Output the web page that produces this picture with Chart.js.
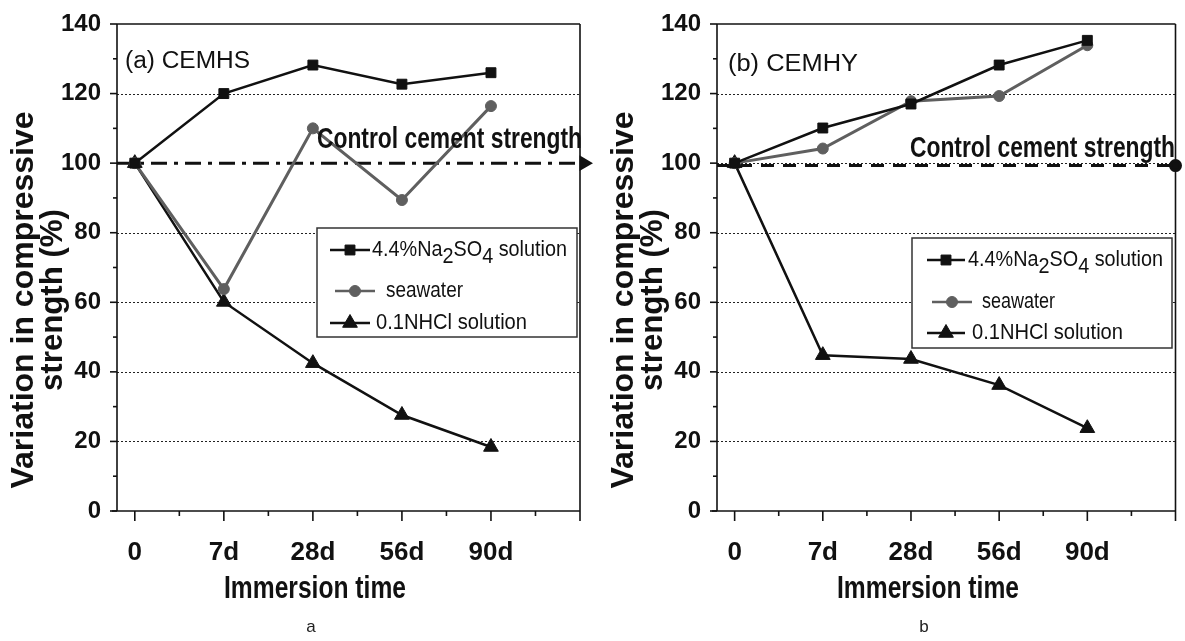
<!DOCTYPE html>
<html>
<head>
<meta charset="utf-8">
<script src="https://cdn.jsdelivr.net/npm/chart.js@4.4.0/dist/chart.umd.min.js"></script>
<style>
  body { margin: 0; background: #fff; width: 1185px; height: 641px; overflow: hidden; position: relative; }
  canvas { position: absolute; top: 0; }
  #chartA { left: 0; }
  #chartB { left: 593px; }
</style>
</head>
<body>
<canvas id="chartA" width="593" height="641"></canvas>
<canvas id="chartB" width="592" height="641"></canvas>
<script>
// immersion times (x categories) and y tick labels
const times = ["0", "7d", "28d", "56d", "90d"];
const yTicks = [0, 20, 40, 60, 80, 100, 120, 140];
const seriesNames = ["4.4%Na_2SO_4 solution", "seawater", "0.1NHCl solution"];

// (a) CEMHS
const sulfateA = [100, 120, 128.2, 122.7, 126];
const seawaterA = [100, 63.8, 110, 89.4, 116.4];
const hclA = [100, 60.1, 42.5, 27.6, 18.4];
const controlA = 100;

// (b) CEMHY
const sulfateB = [100, 110.1, 117, 128.2, 135.3];
const seawaterB = [100, 104.2, 117.8, 119.3, 133.9];
const hclB = [100, 44.8, 43.7, 36.2, 23.8];
const controlB = 99.3;

const FONT = "'Liberation Sans', Arial, sans-serif";
const black = "#111";
const grey = "#5f5f5f";

function line(ctx, x1, y1, x2, y2) {
  ctx.beginPath();
  ctx.moveTo(x1, y1);
  ctx.lineTo(x2, y2);
  ctx.stroke();
}

// draws text squeezed/stretched to a given width (the figure uses a condensed face)
function fitText(ctx, str, cx, cy, font, width, rot) {
  ctx.save();
  ctx.font = font;
  const k = width / ctx.measureText(str).width;
  ctx.translate(cx, cy);
  if (rot) ctx.rotate(rot);
  ctx.scale(k, 1);
  ctx.textAlign = "center";
  ctx.textBaseline = "middle";
  ctx.fillText(str, 0, 0);
  ctx.restore();
}

// legend text with "_x" subscripts
function richText(ctx, str, x, cy, size, width) {
  const parts = [];
  for (let i = 0; i < str.length; i++) {
    if (str[i] === "_") { parts.push({ t: str[i + 1], sub: true }); i++; }
    else if (parts.length && !parts[parts.length - 1].sub) parts[parts.length - 1].t += str[i];
    else parts.push({ t: str[i], sub: false });
  }
  ctx.save();
  ctx.font = size + "px " + FONT;
  let total = 0;
  parts.forEach(p => { p.w = ctx.measureText(p.t).width; total += p.w; });
  const k = width / total;
  ctx.translate(x, cy);
  ctx.scale(k, 1);
  ctx.textAlign = "left";
  ctx.textBaseline = "middle";
  let px = 0;
  parts.forEach(p => {
    ctx.fillText(p.t, px, p.sub ? size * 0.33 : 0);
    px += p.w;
  });
  ctx.restore();
}

const decor = {
  id: "decor",
  beforeDatasetsDraw(chart, args, o) {
    const { ctx, chartArea: a, scales: { x, y } } = chart;
    ctx.save();
    ctx.strokeStyle = "#222";
    ctx.lineWidth = 1;
    ctx.setLineDash([2, 2]);
    // dotted grid, hidden where the control line sits right on it
    yTicks.filter(v => v > 0 && v < 140 && Math.abs(v - o.control) > 0.5).forEach(v => {
      const py = Math.round(y.getPixelForValue(v)) + 0.5;
      line(ctx, a.left, py, a.right, py);
    });
    ctx.setLineDash([]);
    ctx.strokeStyle = black;
    ctx.lineWidth = 1.6;
    line(ctx, a.left, a.top, a.right, a.top);
    line(ctx, a.left, a.top, a.left, a.bottom);
    line(ctx, a.right, a.top, a.right, a.bottom + 10);
    line(ctx, a.left - 5, a.bottom, a.right, a.bottom);
    for (let v = 0; v <= 140; v += 10) {
      const py = y.getPixelForValue(v);
      line(ctx, a.left - (v % 20 ? 4 : 7), py, a.left, py);
    }
    for (let v = 0; v < 5; v += 0.5) {
      const px = x.getPixelForValue(v);
      line(ctx, px, a.bottom, px, a.bottom + (v % 1 ? 5 : 10));
    }
    ctx.restore();
  },
  afterDatasetsDraw(chart, args, o) {
    const { ctx } = chart;
    ctx.save();
    ctx.fillStyle = black;
    // panel title
    fitText(ctx, o.title, o.titleX + o.titleW / 2, o.titleY, "23px " + FONT, o.titleW);
    // control line label
    fitText(ctx, "Control cement strength", o.ctrlX + o.ctrlW / 2, o.ctrlY, "bold 29px " + FONT, o.ctrlW);
    // y axis title
    fitText(ctx, "Variation in compressive", o.yt1, 300, "bold 31px " + FONT, 377, -Math.PI / 2);
    fitText(ctx, "strength (%)", o.yt2, 300, "bold 31px " + FONT, 182, -Math.PI / 2);
    // x axis title
    fitText(ctx, "Immersion time", o.xtX, 589, "bold 31px " + FONT, 182);
    // caption
    ctx.font = "17px " + FONT;
    ctx.textAlign = "center";
    ctx.textBaseline = "middle";
    ctx.fillStyle = "#222";
    ctx.fillText(o.caption, o.xtX - 4, 627);

    // legend box
    const L = o.legend;
    ctx.fillStyle = "#fff";
    ctx.fillRect(L.l, L.t, L.w, L.h);
    ctx.strokeStyle = "#333";
    ctx.lineWidth = 1.5;
    ctx.strokeRect(L.l, L.t, L.w, L.h);
    chart.data.datasets.slice(0, 3).forEach((ds, i) => {
      const r = L.rows[i];
      ctx.strokeStyle = ds.borderColor;
      ctx.fillStyle = ds.borderColor;
      ctx.lineWidth = 2.6;
      line(ctx, r.x1, r.cy, r.x2, r.cy);
      ctx.lineWidth = 1;
      Chart.helpers.drawPoint(ctx, { pointStyle: ds.pointStyle, radius: ds.pointRadius, rotation: 0, borderWidth: 1 }, (r.x1 + r.x2) / 2, r.cy);
      ctx.fillStyle = black;
      richText(ctx, seriesNames[i], r.tx, r.cy, 22, r.tw);
    });
    ctx.restore();
  }
};

function series(values, color, style, radius, width) {
  return {
    data: values.map((v, i) => ({ x: i, y: v })),
    borderColor: color,
    backgroundColor: color,
    pointBackgroundColor: color,
    pointBorderColor: color,
    pointStyle: style,
    pointRadius: radius,
    pointBorderWidth: 1,
    borderWidth: width
  };
}

function makeChart(id, sulfate, seawater, hcl, control, end, d) {
  const ctrl = {
    data: [{ x: -0.2, y: control }, { x: end.x, y: control }],
    borderColor: black,
    borderWidth: 3,
    borderDash: end.dash,
    pointRadius: [0, end.r],
    pointStyle: end.style,
    pointRotation: 90,
    pointBackgroundColor: black,
    pointBorderColor: black,
    clip: false
  };
  d.control = control;
  return new Chart(document.getElementById(id), {
    type: "line",
    data: {
      datasets: [
        series(sulfate, black, "rect", 7, 2.5),
        series(seawater, grey, "circle", 5.5, 3),
        series(hcl, black, "triangle", 8.5, 2.5),
        ctrl
      ]
    },
    options: {
      responsive: false,
      animation: false,
      devicePixelRatio: 1,
      events: [],
      layout: { padding: { left: 0, top: 24, right: d.padRight, bottom: 0 } },
      scales: {
        x: {
          type: "linear",
          min: -0.2,
          max: 5,
          grid: { display: false },
          border: { display: false },
          afterBuildTicks: s => { s.ticks = times.map((t, i) => ({ value: i })); },
          afterFit: s => { s.height = 130; },
          ticks: {
            autoSkip: false,
            maxRotation: 0,
            padding: 18,
            color: black,
            font: { family: FONT, size: 26, weight: "bold" },
            callback: v => times[v]
          }
        },
        y: {
          min: 0,
          max: 140,
          grid: { display: false },
          border: { display: false },
          afterBuildTicks: s => { s.ticks = yTicks.map(v => ({ value: v })); },
          afterFit: s => { s.width = d.axisX; },
          ticks: {
            padding: 8,
            color: black,
            font: { family: FONT, size: 24, weight: "bold" }
          }
        }
      },
      plugins: {
        legend: { display: false },
        tooltip: { enabled: false },
        decor: d
      }
    },
    plugins: [decor]
  });
}

makeChart("chartA", sulfateA, seawaterA, hclA, controlA,
  { x: 5.045, r: 6, style: "triangle", dash: [16, 7, 4, 7] },
  {
    axisX: 117, padRight: 13,
    title: "(a) CEMHS", titleX: 125, titleY: 62, titleW: 125,
    ctrlX: 317, ctrlY: 140, ctrlW: 265,
    yt1: 24, yt2: 53, xtX: 315, caption: "a",
    legend: {
      l: 317, t: 228, w: 260, h: 109,
      rows: [
        { cy: 250, x1: 330, x2: 370, tx: 372, tw: 195 },
        { cy: 291, x1: 335, x2: 375, tx: 386, tw: 77 },
        { cy: 323, x1: 330, x2: 370, tx: 376, tw: 151 }
      ]
    }
  });

makeChart("chartB", sulfateB, seawaterB, hclB, controlB,
  { x: 5.0, r: 5, style: "circle", dash: [13, 9] },
  {
    axisX: 124, padRight: 6,
    title: "(b) CEMHY", titleX: 135, titleY: 65, titleW: 130,
    ctrlX: 317, ctrlY: 149, ctrlW: 265,
    yt1: 31, yt2: 60, xtX: 335, caption: "b",
    legend: {
      l: 319, t: 238, w: 260, h: 110,
      rows: [
        { cy: 260, x1: 334, x2: 372, tx: 375, tw: 195 },
        { cy: 302, x1: 339, x2: 379, tx: 389, tw: 73 },
        { cy: 333, x1: 334, x2: 372, tx: 379, tw: 151 }
      ]
    }
  });
</script>
</body>
</html>
